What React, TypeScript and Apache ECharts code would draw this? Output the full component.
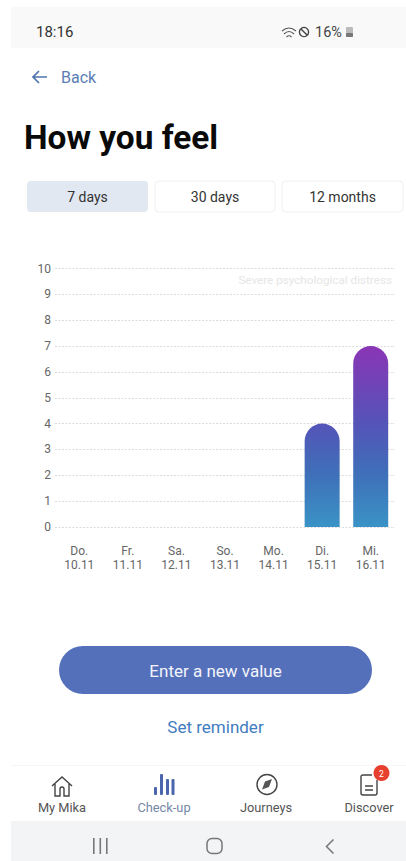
import React, { useEffect, useRef } from "react";
import * as echarts from "echarts";

const dayNames = ["Do.", "Fr.", "Sa.", "So.", "Mo.", "Di.", "Mi."];
const dates = ["10.11", "11.11", "12.11", "13.11", "14.11", "15.11", "16.11"];
const feelValues = [null, null, null, null, null, 4, 7];
const yTicks = { min: 0, max: 10, step: 1 };
const tabs = ["7 days", "30 days", "12 months"];
const navLabels = ["My Mika", "Check-up", "Journeys", "Discover"];

const icons: Record<string, string> = {
  homeIcon: "M1 11 L11 2 L21 11 M4 9 V21 H9 V14 Q9 12 11 12 Q13 12 13 14 V21 H18 V9",
  compassIcon: "M11 1 A10 10 0 1 0 11 21 A10 10 0 1 0 11 1 Z",
  docIcon: "M12 1 H3 Q1 1 1 3 V19 Q1 21 3 21 H15 Q17 21 17 19 V6 M5 12 H13 M5 16 H13",
  wifiIcon: "M0 4 Q7 -2 14 4 M2 7 Q7 2 12 7 M4.5 10 Q7 7.5 9.5 10",
  backArrow: "M15 7 H1 M7 1 L1 7 L7 13",
  chevronIcon: "M8 0 L1 7 L8 14",
};
Object.entries(icons).forEach(([name, d]) => {
  echarts.graphic.registerShape(name, echarts.graphic.extendPath(d, {}) as any);
});

const FONT = "Roboto";
const label = (text: string, x: number, y: number, size: number, fill: string, align = "center", weight = 400) => ({
  type: "text",
  x,
  y,
  silent: true,
  style: { text, fill, align, verticalAlign: "middle", font: `${weight} ${size}px ${FONT}` },
});
const box = (x: number, y: number, width: number, height: number, r: number, fill: string, stroke?: string) => ({
  type: "rect",
  silent: true,
  shape: { x, y, width, height, r },
  style: { fill, stroke: stroke || "none", lineWidth: stroke ? 1 : 0 },
});
const icon = (type: string, x: number, y: number, stroke: string, lineWidth = 1.5, s = 1) => ({
  type,
  x,
  y,
  scaleX: s,
  scaleY: s,
  silent: true,
  style: { fill: "none", stroke, lineWidth },
});

function graphics() {
  const tabX = [27, 155, 282];
  const tabW = [121, 120, 121];
  const navX = [62, 164, 266, 369];
  const navColor = ["#555555", "#7488a8", "#555555", "#555555"];
  return [
    box(11, 7, 395, 41, 0, "#f9f9f9"),
    box(11, 821, 395, 40, 0, "#f3f4f5"),
    box(11, 765, 395, 1, 0, "#f5f5f5"),
    label("18:16", 36, 32, 15, "#333333", "left"),
    icon("wifiIcon", 282, 27, "#555555", 1.1),
    { type: "circle", silent: true, shape: { cx: 304, cy: 32, r: 4.6 }, style: { fill: "none", stroke: "#444444", lineWidth: 1.4 } },
    { type: "line", silent: true, shape: { x1: 301, y1: 29, x2: 307, y2: 35 }, style: { stroke: "#444444", lineWidth: 1.4 } },
    label("16%", 315, 32, 14.5, "#444444", "left"),
    box(346, 27, 7, 10, 1, "#bbbbbb"),
    box(346, 33, 7, 4, 1, "#777777"),
    icon("backArrow", 32, 70, "#4f74b0", 1.7),
    label("Back", 61, 77, 16, "#5b7db5", "left"),
    label("How you feel", 24, 137, 33.4, "#0a0a0a", "left", 700),
    ...tabs.map((t, i) =>
      box(tabX[i], 181, tabW[i], 31, 4, i === 0 ? "#e1e8f2" : "#ffffff", i === 0 ? undefined : "#f0f0f0")
    ),
    ...tabs.map((t, i) => label(t, tabX[i] + tabW[i] / 2, 197, 14, "#333333")),
    label("Severe psychological distress", 392, 280, 11.7, "#e6e6e6", "right"),
    box(59, 646, 313, 48, 24, "#5570ba"),
    label("Enter a new value", 215.5, 671, 17, "#f2f4fa"),
    label("Set reminder", 215.5, 726.5, 17, "#3f7cc0"),
    ...navLabels.map((t, i) => label(t, navX[i], 807.5, 12.8, navColor[i])),
    icon("homeIcon", 51, 775, "#444444", 1.4),
    box(154, 787, 3, 8, 1, "#4a66ad"),
    box(160, 774, 3, 21, 1, "#4a66ad"),
    box(166, 779, 3, 16, 1, "#4a66ad"),
    box(171.5, 779, 3, 16, 1, "#4a66ad"),
    icon("compassIcon", 256, 773.5, "#444444", 1.4),
    {
      type: "polygon",
      silent: true,
      shape: { points: [[272, 779], [269, 787], [262, 789.5], [265, 781.5]] },
      style: { fill: "#555555" },
    },
    icon("docIcon", 360, 774, "#444444", 1.4),
    { type: "circle", silent: true, shape: { cx: 381.5, cy: 773, r: 8 }, style: { fill: "#e8402f" } },
    label("2", 381.5, 773.5, 8.5, "#ffffff"),
    box(93, 838, 1.6, 16, 0, "#777777"),
    box(99.5, 838, 1.6, 16, 0, "#777777"),
    box(106, 838, 1.6, 16, 0, "#777777"),
    { type: "rect", silent: true, shape: { x: 207, y: 838.5, width: 15, height: 15, r: 5 }, style: { fill: "none", stroke: "#777777", lineWidth: 1.5 } },
    icon("chevronIcon", 325.5, 839.5, "#777777", 1.5),
  ];
}

export default function App() {
  const ref = useRef<HTMLDivElement>(null);
  useEffect(() => {
    document.body.style.margin = "0";
    const chart = echarts.init(ref.current!, null, { renderer: "svg" });
    chart.setOption({
      animation: false,
      backgroundColor: "#ffffff",
      textStyle: { fontFamily: FONT },
      grid: { left: 55, right: 11, top: 268.5, height: 258.5 },
      xAxis: {
        type: "category",
        data: dayNames.map((d, i) => `${d}\n${dates[i]}`),
        axisLine: { show: false },
        axisTick: { show: false },
        axisLabel: { color: "#666666", fontSize: 12, lineHeight: 14, margin: 17, fontFamily: FONT, interval: 0 },
      },
      yAxis: {
        type: "value",
        min: yTicks.min,
        max: yTicks.max,
        interval: yTicks.step,
        axisLine: { show: false },
        axisTick: { show: false },
        axisLabel: { color: "#666666", fontSize: 12, margin: 4, fontFamily: FONT },
        splitLine: { show: true, lineStyle: { color: "#dcdcdc", type: [2, 1.5], width: 1 } },
      },
      series: [
        {
          type: "bar",
          data: feelValues,
          barWidth: 35,
          itemStyle: {
            borderRadius: [17.5, 17.5, 0, 0],
            color: new echarts.graphic.LinearGradient(
              0, 346, 0, 527,
              [
                { offset: 0, color: "#8a35b5" },
                { offset: 0.42, color: "#5553b8" },
                { offset: 0.7, color: "#3f6fb8" },
                { offset: 1, color: "#3a93c6" },
              ],
              true
            ),
          },
        },
      ],
      graphic: { elements: graphics() },
    });
    return () => chart.dispose();
  }, []);
  return <div ref={ref} style={{ position: "fixed", left: 0, top: 0, width: 406, height: 861 }} />;
}
